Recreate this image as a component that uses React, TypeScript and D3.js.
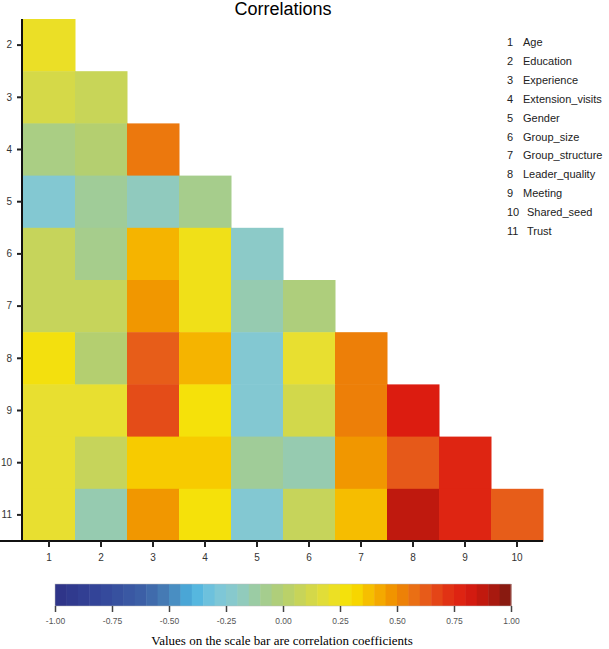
import React, { useEffect, useRef } from "react";
import * as d3 from "d3";

const variables = [
  "Age", "Education", "Experience", "Extension_visits", "Gender", "Group_size",
  "Group_structure", "Leader_quality", "Meeting", "Shared_seed", "Trust"
];

// lower triangle: row k holds variable k+2 against variables 1..k+1
const corrRows = [
  [0.22],
  [0.13, 0.08],
  [-0.05, 0.0, 0.55],
  [-0.25, -0.1, -0.18, -0.07],
  [0.07, -0.07, 0.4, 0.25, -0.2],
  [0.07, 0.07, 0.47, 0.25, -0.15, -0.03],
  [0.27, 0.0, 0.62, 0.4, -0.25, 0.2, 0.53],
  [0.2, 0.2, 0.66, 0.28, -0.25, 0.12, 0.53, 0.8],
  [0.2, 0.07, 0.35, 0.35, -0.1, -0.15, 0.47, 0.63, 0.77],
  [0.2, -0.15, 0.47, 0.28, -0.25, 0.07, 0.38, 0.88, 0.77, 0.62]
];

const colorStops = [-1, -0.8, -0.6, -0.5, -0.4, -0.3, -0.2, -0.1, 0, 0.1, 0.2, 0.3, 0.4, 0.5, 0.6, 0.7, 0.8, 0.9, 1];
const colorValues = [
  "#2e3386", "#34469a", "#3d63a8", "#4882b8", "#4ab2e0", "#79c6dc", "#8ccac8", "#a0cc98",
  "#b4cf70", "#cdd652", "#e8df30", "#f8e100", "#f5b400", "#ef8a00", "#e8661a", "#e23a16",
  "#dc1c10", "#b8180e", "#7a1a10"
];
const scaleTicks = [-1, -0.75, -0.5, -0.25, 0, 0.25, 0.5, 0.75, 1];

function drawChart(node: SVGSVGElement) {
  const svg = d3.select(node);
  svg.selectAll("*").remove();

  const color = d3.scaleLinear<string>().domain(colorStops).range(colorValues);

  const cols = d3.range(1, 11);
  const rows = d3.range(2, 12);
  const x = d3.scaleBand<number>().domain(cols).range([23, 543]);
  const y = d3.scaleBand<number>().domain(rows).range([19, 541]);

  const cells = corrRows.flatMap((r, i) => r.map((v, j) => ({ row: i + 2, col: j + 1, value: v })));

  svg.append("g")
    .selectAll("rect")
    .data(cells)
    .enter().append("rect")
    .attr("x", d => x(d.col)!)
    .attr("y", d => y(d.row)!)
    .attr("width", x.bandwidth() + 0.5)
    .attr("height", y.bandwidth() + 0.5)
    .style("fill", d => color(d.value));

  const font = "'Liberation Sans', Arial, sans-serif";

  const yAxis = svg.append("g")
    .attr("transform", "translate(22,0)")
    .call(d3.axisLeft(y).tickSizeOuter(0).tickSize(5).tickPadding(5));
  const xAxis = svg.append("g")
    .attr("transform", "translate(0,541)")
    .call(d3.axisBottom(x).tickSizeOuter(0).tickSize(6).tickPadding(7));
  [yAxis, xAxis].forEach(ax => {
    ax.select(".domain").attr("stroke", "#111").attr("stroke-width", 2);
    ax.selectAll(".tick line").attr("stroke", "#222").attr("stroke-width", 2);
    ax.selectAll(".tick text")
      .attr("fill", "#333")
      .style("font-family", font)
      .style("font-size", "10px");
  });
  yAxis.select(".domain").attr("d", "M0,19V542");
  xAxis.select(".domain").attr("d", "M0,0H543");

  svg.append("text")
    .attr("x", 283)
    .attr("y", 15)
    .attr("text-anchor", "middle")
    .style("font-family", font)
    .style("font-size", "18px")
    .text("Correlations");

  // variable legend
  const legend = svg.append("g").style("font-family", font).style("font-size", "11px").attr("fill", "#222");
  legend.selectAll(".num")
    .data(variables)
    .enter().append("text")
    .attr("x", 507)
    .attr("y", (d, i) => 46 + i * 18.9)
    .text((d, i) => String(i + 1));
  legend.selectAll(".lab")
    .data(variables)
    .enter().append("text")
    .attr("x", (d, i) => (i >= 9 ? 527 : 523))
    .attr("y", (d, i) => 46 + i * 18.9)
    .text(d => d);

  // colour bar
  const cx = d3.scaleLinear().domain([-1, 1]).range([55, 511]);
  const steps = d3.range(-1, 1, 0.05);
  svg.append("g")
    .selectAll("rect")
    .data(steps)
    .enter().append("rect")
    .attr("x", d => cx(d))
    .attr("y", 584)
    .attr("width", cx(0.05) - cx(0) + 0.5)
    .attr("height", 22)
    .style("fill", d => color(d + 0.025));
  svg.append("rect")
    .attr("x", 55).attr("y", 584).attr("width", 456).attr("height", 22)
    .attr("fill", "none").attr("stroke", "#bbb").attr("stroke-width", 0.5);

  const fmt = d3.format(".2f");
  const barAxis = svg.append("g")
    .attr("transform", "translate(0,606)")
    .call(d3.axisBottom(cx).tickValues(scaleTicks)
      .tickFormat(d => fmt(+d).replace("\u2212", "-"))
      .tickSize(6).tickSizeOuter(0).tickPadding(6));
  barAxis.select(".domain").remove();
  barAxis.selectAll(".tick line").attr("stroke", "#444").attr("stroke-width", 1.5);
  barAxis.selectAll(".tick text")
    .attr("fill", "#555")
    .style("font-family", font)
    .style("font-size", "8.5px");

  svg.append("text")
    .attr("x", 282)
    .attr("y", 645)
    .attr("text-anchor", "middle")
    .style("font-family", "'Liberation Serif', 'Times New Roman', serif")
    .style("font-size", "13px")
    .text("Values on the scale bar are correlation coefficients");
}

const App = () => {
  const ref = useRef<SVGSVGElement>(null);

  useEffect(() => {
    if (ref.current) drawChart(ref.current);
  });

  return (
    <svg ref={ref} width={609} height={649}
      style={{ position: "absolute", left: 0, top: 0, background: "#fff" }} />
  );
};

export default App;
